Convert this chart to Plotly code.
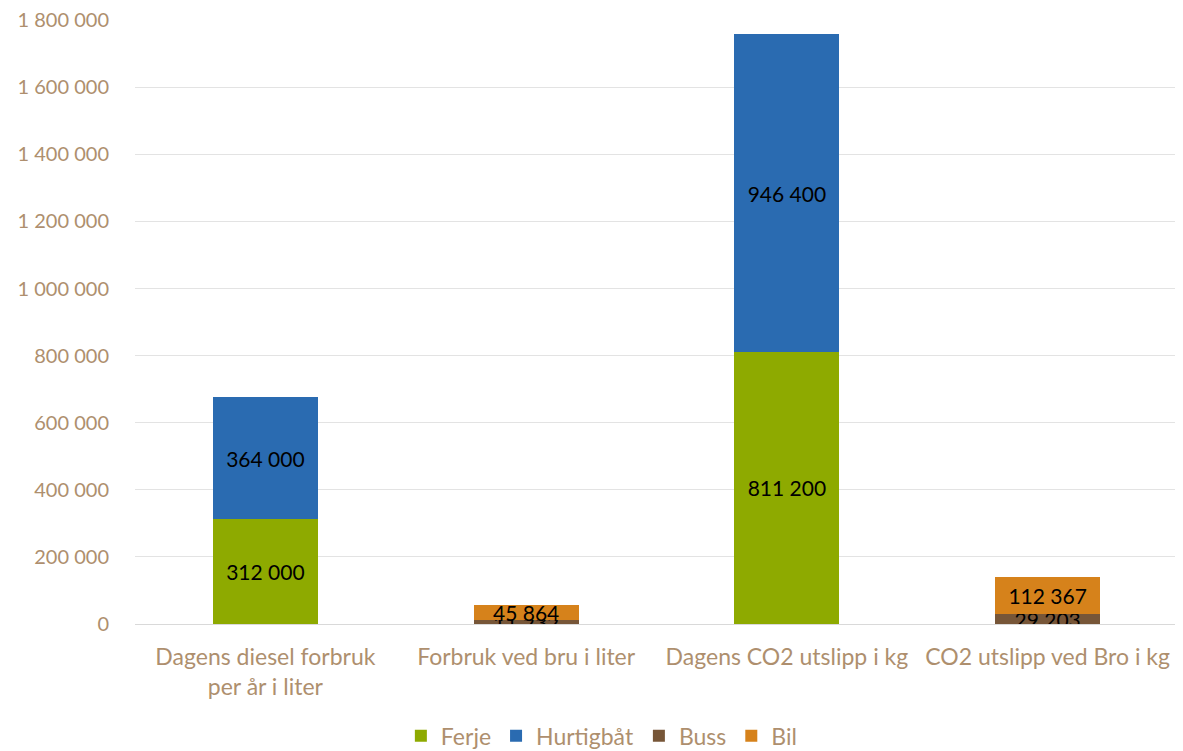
import plotly.graph_objects as go

categories = ["Dagens diesel forbruk<br>per år i liter", "Forbruk ved bru i liter",
              "Dagens CO2 utslipp i kg", "CO2 utslipp ved Bro i kg"]
ferje = [312000, 0, 811200, 0]
hurtigbat = [364000, 0, 946400, 0]
buss = [0, 11232, 0, 29203]
bil = [0, 45864, 0, 112367]
y_ticks = [0, 200000, 400000, 600000, 800000, 1000000, 1200000, 1400000, 1600000, 1800000]

series = [("Ferje", ferje, "#8EAA00"), ("Hurtigbåt", hurtigbat, "#2A6BB1"),
          ("Buss", buss, "#775638"), ("Bil", bil, "#D6821B")]

def fmt(v):
    return "" if v == 0 else f"{v:,}".replace(",", " ")

fig = go.Figure()
for name, vals, col in series:
    fig.add_trace(go.Bar(
        name=name, x=categories, y=vals, marker_color=col, marker_line_width=0,
        text=[fmt(v) for v in vals], textposition="inside", insidetextanchor="middle",
        textfont=dict(color="black", size=21, family="Lato"), constraintext="none",
        hoverinfo="skip"))

fig.update_layout(
    barmode="stack", bargap=0.597,
    width=1183, height=751,
    margin=dict(l=127, r=13, t=12, b=135, autoexpand=False),
    paper_bgcolor="white", plot_bgcolor="white",
    separators=", ",
    font=dict(family="Lato", color="#AE8F6E", size=20),
    uniformtext=dict(minsize=21, mode="show"),
    legend=dict(orientation="h", x=0.502, xanchor="center", xref="container",
                yref="container", y=0.031, yanchor="middle",
                font=dict(size=23, color="#AE8F6E"), traceorder="normal",
                itemwidth=30, tracegroupgap=0),
    xaxis=dict(showgrid=False, showline=True, linecolor="#D9D9D9", ticks="",
               ticklabelstandoff=12,
               tickfont=dict(size=23, family="Lato", color="#AE8F6E")),
    yaxis=dict(range=[0, 1800400], tickvals=y_ticks, tickformat=",d",
               showgrid=True, gridcolor="#E3E3E3", zeroline=False, showline=False,
               ticklabelstandoff=25, ticklabeloverflow="allow", automargin=False,
               tickfont=dict(size=20, color="#AE8F6E")),
)
fig.write_html("out.html")
